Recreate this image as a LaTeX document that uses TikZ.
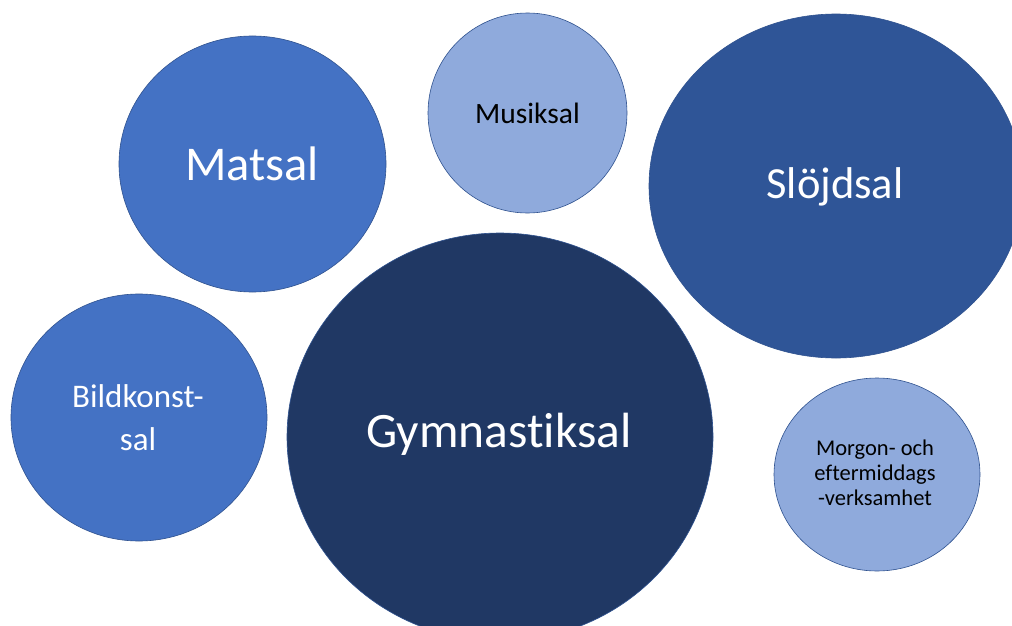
\documentclass[tikz,border=0pt]{standalone}
\usepackage{fontspec}
\setmainfont{Carlito}[RawFeature={-liga}]
\usetikzlibrary{shapes.geometric}
\definecolor{midblue}{HTML}{4472C4}
\definecolor{lightblue}{HTML}{8FAADC}
\definecolor{darkblue}{HTML}{2F5597}
\definecolor{navy}{HTML}{203864}
\definecolor{rim}{HTML}{2F528F}
\tikzset{
  bubble/.style={ellipse, draw=rim, line width=0.6pt, inner sep=0pt},
  wlabel/.style={text=white, anchor=base, align=center, inner sep=0pt},
  klabel/.style={text=black, anchor=base, align=center, inner sep=0pt},
}
\begin{document}
\begin{tikzpicture}[x=1pt,y=-1pt]
\useasboundingbox (0,0) rectangle (1012,626);
\clip (0,0) rectangle (1012,626);
\fill[white] (0,0) rectangle (1012,626);
% bubbles
\node[bubble, fill=midblue, minimum width=267pt, minimum height=256pt] (matsal) at (252.5,164) {};
\node[bubble, fill=lightblue, minimum width=199pt, minimum height=200pt] (musik) at (527.5,113) {};
\node[bubble, fill=darkblue, minimum width=374pt, minimum height=344pt] (slojd) at (836,186) {};
\node[bubble, fill=midblue, minimum width=256pt, minimum height=247pt] (bild) at (139,417.5) {};
\node[bubble, fill=navy, minimum width=426pt, minimum height=408pt] (gym) at (500,437) {};
\node[bubble, fill=lightblue, minimum width=206pt, minimum height=193pt] (morgon) at (877,474.5) {};
% labels
\node[wlabel, font=\fontsize{48.5}{58}\selectfont] (tmatsal) at (252,180) {Matsal};
\node[klabel, font=\fontsize{29.5}{35}\selectfont] (tmusik) at (527.5,123) {Musiksal};
\node[wlabel, font=\fontsize{44.5}{54}\selectfont] (tslojd) at (835,198) {Slöjdsal};
\node[wlabel, font=\fontsize{49.5}{58}\selectfont] (tgym) at (499,447) {Gymnastiksal};
\node[wlabel, font=\fontsize{33}{43}\selectfont] (tbild) at (138,450) {Bildkonst-\\sal};
\node[klabel, font=\fontsize{22.5}{25}\selectfont] (tmorgon) at (875,505) {Morgon- och\\eftermiddags\\-verksamhet};
\end{tikzpicture}
\end{document}
